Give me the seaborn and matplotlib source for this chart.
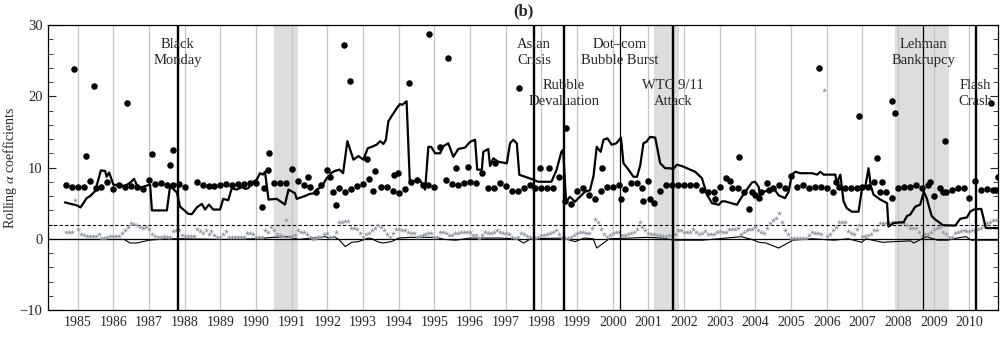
import numpy as np
import pandas as pd
import matplotlib
matplotlib.use("Agg")
import matplotlib.pyplot as plt
import seaborn as sns

# ---- data ----
# thick line: (decimal year, value) knots
thick_year = [1984.64, 1984.8, 1984.97, 1985.08, 1985.25, 1985.35, 1985.49, 1985.65, 1985.77, 1985.81,
              1985.88, 1986.0, 1986.33, 1986.5, 1986.58, 1986.7, 1987.03, 1987.08, 1987.5, 1987.59,
              1987.78, 1987.87, 1988.1, 1988.2, 1988.34, 1988.48, 1988.57, 1988.68, 1988.8, 1988.99,
              1989.08, 1989.22, 1989.32, 1989.46, 1989.6, 1989.7, 1989.78, 1989.92, 1990.02, 1990.11,
              1990.19, 1990.25, 1990.35, 1990.58, 1990.81, 1990.91, 1991.09, 1991.14, 1991.37, 1991.51,
              1991.65, 1991.7, 1991.84, 1991.98, 1992.08, 1992.1, 1992.2, 1992.34, 1992.44, 1992.56,
              1992.73, 1992.87, 1993.01, 1993.13, 1993.24, 1993.38, 1993.48, 1993.57, 1993.64, 1993.71,
              1993.85, 1993.94, 1994.03, 1994.1, 1994.22, 1994.31, 1994.46, 1994.6, 1994.74, 1994.83,
              1994.91, 1995.02, 1995.16, 1995.25, 1995.39, 1995.53, 1995.67, 1995.86, 1996.0, 1996.14,
              1996.2, 1996.33, 1996.37, 1996.51, 1996.56, 1996.65, 1996.79, 1997.03, 1997.12, 1997.21,
              1997.31, 1997.38, 1997.54, 1997.77, 1997.91, 1998.1, 1998.28, 1998.42, 1998.56, 1998.61,
              1998.69, 1998.8, 1998.94, 1999.08, 1999.22, 1999.36, 1999.46, 1999.55, 1999.66, 1999.74,
              1999.85, 1999.97, 2000.1, 2000.23, 2000.3, 2000.44, 2000.58, 2000.68, 2000.77, 2000.86,
              2000.94, 2001.05, 2001.19, 2001.33, 2001.47, 2001.61, 2001.69, 2001.8, 2001.94, 2002.31,
              2002.5, 2002.64, 2002.78, 2002.97, 2003.06, 2003.15, 2003.48, 2003.62, 2003.9, 2003.99,
              2004.09, 2004.13, 2004.23, 2004.37, 2004.51, 2004.65, 2004.83, 2004.93, 2005.02, 2005.12,
              2005.26, 2005.59, 2005.73, 2005.82, 2005.91, 2006.24, 2006.28, 2006.38, 2006.47, 2006.56,
              2006.7, 2006.89, 2006.98, 2007.08, 2007.17, 2007.23, 2007.31, 2007.5, 2007.69, 2007.73,
              2007.87, 2008.06, 2008.15, 2008.25, 2008.34, 2008.48, 2008.62, 2008.72, 2008.8, 2008.94,
              2009.04, 2009.18, 2009.25, 2009.6, 2009.74, 2009.93, 2010.02, 2010.12, 2010.33, 2010.46,
              2010.8]
thick_val = [5.1, 4.9, 4.7, 4.4, 5.7, 6.0, 6.7, 9.6, 9.5, 8.7,
             9.3, 7.6, 7.4, 8.0, 8.4, 7.1, 7.6, 3.98, 3.98, 7.4,
             6.5, 4.5, 3.5, 3.45, 4.4, 4.9, 4.1, 4.8, 4.1, 4.1,
             5.6, 5.4, 7.1, 6.9, 7.25, 7.0, 7.1, 8.0, 8.3, 9.2,
             9.0, 9.4, 5.5, 5.6, 4.8, 6.9, 6.4, 5.6, 6.0, 6.3,
             6.4, 6.9, 7.3, 8.5, 9.0, 9.2, 9.5, 9.7, 9.2, 13.7,
             11.1, 11.6, 11.1, 12.7, 12.9, 13.2, 13.7, 13.3, 13.9, 16.5,
             17.6, 18.3, 18.9, 18.8, 19.3, 8.05, 8.1, 8.2, 6.9, 12.9,
             12.9, 12.0, 12.0, 13.0, 13.4, 11.5, 12.6, 12.8, 13.6, 13.9,
             9.7, 9.7, 12.2, 12.6, 10.2, 11.3, 10.8, 10.6, 13.4, 13.9,
             13.4, 8.98, 8.7, 8.3, 8.0, 8.0, 8.0, 9.6, 12.2, 12.5,
             5.2, 5.9, 5.2, 5.9, 6.6, 6.8, 8.8, 12.9, 12.2, 13.9,
             14.1, 13.2, 13.4, 14.2, 10.6, 9.7, 8.7, 8.7, 10.3, 13.4,
             13.6, 14.3, 14.2, 10.6, 9.9, 9.9, 9.75, 10.4, 10.2, 9.4,
             8.5, 6.2, 5.0, 4.77, 5.25, 5.25, 4.77, 5.9, 7.9, 8.0,
             7.3, 6.1, 6.6, 6.8, 7.1, 6.1, 5.7, 6.6, 9.0, 9.4,
             9.2, 9.2, 9.0, 9.4, 9.0, 9.0, 7.8, 9.0, 5.25, 4.3,
             3.8, 3.8, 6.8, 7.3, 9.9, 7.5, 6.2, 5.5, 5.0, 1.7,
             2.2, 2.3, 2.3, 3.2, 3.4, 4.5, 4.8, 6.6, 5.7, 3.2,
             2.7, 2.2, 1.9, 1.85, 2.8, 3.0, 3.8, 4.1, 4.2, 1.5,
             1.5]

# thin line near zero: (decimal year, value) knots
thin_year = [1984.67, 1986.3, 1986.47, 1986.65, 1987.0, 1987.5, 1988.0, 1989.0, 1990.0, 1990.48,
             1990.85, 1991.2, 1991.94, 1992.05, 1992.2, 1992.34, 1992.5, 1992.68, 1992.87, 1993.15,
             1993.25, 1993.4, 1993.55, 1993.8, 1994.0, 1994.3, 1995.0, 1995.3, 1995.6, 1996.0,
             1996.8, 1997.3, 1997.5, 1997.7, 1998.6, 1998.94, 1999.2, 1999.45, 1999.55, 1999.74,
             1999.9, 2000.5, 2000.95, 2001.4, 2001.7, 2002.5, 2002.97, 2003.6, 2003.9, 2004.1,
             2004.3, 2004.65, 2004.83, 2005.05, 2005.6, 2006.2, 2006.6, 2006.98, 2007.1, 2007.56,
             2007.9, 2008.35, 2008.44, 2008.71, 2008.8, 2009.1, 2009.4, 2009.65, 2009.9, 2010.05,
             2010.8]
thin_val = [-0.1, -0.1, -0.6, -0.6, -0.2, 0.0, 0.0, -0.1, 0.0, 0.2,
            0.3, -0.1, 0.3, 0.1, 0.3, -0.2, -1.1, -0.5, -0.4, 0.1,
            0.0, -0.4, -0.6, -0.4, 0.1, 0.2, 0.2, -0.1, -0.2, 0.1,
            0.1, 0.0, -0.6, 0.0, 0.1, -0.4, 0.1, 0.0, -1.3, -0.6,
            0.0, 0.1, 0.2, 0.1, -0.2, -0.2, 0.0, 0.3, -0.1, -0.5,
            -0.6, -1.3, -0.8, -0.2, 0.0, -0.2, 0.0, -0.5, 0.0, -0.5,
            -0.4, -0.3, -0.6, 0.1, 0.3, -0.2, -0.2, 0.1, 0.3, -0.2,
            -0.2]

# black dots, every two months from Sep 1984
dot_vals = [7.6, 7.25,                              # 1984 (Sep, Nov)
            7.25, 7.25, 8.1, 7.1, 7.3, 8.0,         # 1985
            7.0, 7.5, 7.25, 7.4, 7.25, 7.0,         # 1986
            8.2, 7.7, 7.8, 7.6, 7.5, 7.7,           # 1987
            7.25, np.nan, 7.9, 7.6, 7.35, 7.4,      # 1988
            7.6, 7.7, 7.5, 7.7, 7.7, 7.8,           # 1989
            7.8, 4.4, 9.6, 7.8, 7.8, 7.8,           # 1990
            9.8, 8.1, 7.6, 7.25, 6.5, 7.6,          # 1991
            9.7, 6.6, 7.1, 6.5, 7.0, 7.45,          # 1992
            7.7, 8.4, 9.5, 7.2, 7.2, 6.7,           # 1993
            6.4, 7.0, 7.9, 8.2, 7.6, 7.6,           # 1994
            7.3, 12.9, 8.3, 7.7, 7.6, 7.8,          # 1995
            7.9, 7.8, 9.2, 7.1, 7.1, 7.8,           # 1996
            7.4, 6.7, 6.7, 7.1, 7.5, 7.1,           # 1997
            7.1, 7.1, 7.1, 8.7, 5.3, 4.9,           # 1998
            6.7, 7.1, 6.2, 5.6, 6.7, 7.3,           # 1999
            7.3, 7.6, 7.0, 7.8, 7.8, 7.1,           # 2000
            8.1, 5.0, 6.7, 7.5, 7.5, 7.5,           # 2001
            7.5, 7.5, 7.5, 6.8, 6.5, 6.5,           # 2002
            7.2, 8.5, 7.1, 7.1, 6.5, 4.2,           # 2003
            6.1, 6.6, 7.8, 7.1, 7.5, 7.1,           # 2004
            8.8, 7.3, 7.5, 7.1, 7.2, 7.2,           # 2005
            7.1, 6.6, 7.2, 7.1, 7.1, 7.1,           # 2006
            7.3, 7.3, 7.9, 6.6, 6.6, 5.7,           # 2007
            7.1, 7.3, 7.3, 7.5, 7.1, 7.5,           # 2008
            6.0, 7.1, 6.5, 6.8, 7.1, 7.1,           # 2009
            5.7, 8.1, 6.8, 7.0, 6.9]                # 2010 (Jan-Sep)

# extra black dots off the regular grid
dot_extra_year = [1984.9, 1985.22, 1985.47, 1986.37, 1987.07, 1987.59, 1987.66, 1990.22, 1990.37, 1991.47,
                  1992.08, 1992.23, 1992.47, 1992.62, 1993.12, 1993.29, 1993.88, 1993.97, 1994.3, 1994.86,
                  1995.37, 1995.61, 1995.95, 1996.7, 1997.36, 1997.95, 1998.2, 1998.69, 1999.69, 2000.23,
                  2000.86, 2001.05, 2002.88, 2003.29, 2003.55, 2003.9, 2004.11, 2004.37, 2005.79, 2006.27,
                  2006.89, 2007.4, 2007.54, 2007.82, 2007.92, 2008.9, 2009.26, 2009.32, 2010.61, 2010.74,
                  2010.8]
dot_extra_val = [23.8, 11.65, 21.4, 19.0, 11.9, 10.3, 12.4, 7.1, 12.1, 8.7,
                 8.7, 4.75, 27.2, 22.2, 11.2, 6.7, 9.0, 9.2, 21.8, 28.7,
                 25.3, 10.0, 10.1, 10.6, 21.2, 10.0, 10.0, 15.5, 10.0, 5.6,
                 5.3, 5.6, 5.6, 8.1, 11.5, 6.6, 5.7, 6.8, 23.95, 8.0,
                 17.2, 11.3, 7.9, 19.3, 17.7, 7.9, 6.5, 13.7, 19.0, 6.8,
                 8.7]

# grey stars, monthly from Sep 1984
star_vals = [0.9, 0.9, 1.0, 5.4,                                          # 1984 (Sep-Dec)
             1.3, 0.7, 0.5, 0.35, 0.35, 0.4, 0.45, 0.6, 0.1, 0.1, 0.2, 0.35,   # 1985
             0.35, 0.45, 0.45, 0.8, 1.2, 1.7, 2.2, 2.05, 1.95, 1.7, 1.5, 1.6,  # 1986
             1.3, 0.7, 0.35, 0.3, 0.25, 0.45, 0.3, 0.25, 1.05, 1.2, 1.2, 0.5,  # 1987
             0.35, 0.45, 0.45, 0.4, 1.4, 1.05, 0.8, 1.2, 0.6, 1.05, 0.5, 0.25, # 1988
             0.25, 0.6, 1.05, 0.25, 0.25, 0.25, 0.25, 0.25, 0.25, 0.8, 0.8, 0.6,  # 1989
             0.3, 0.25, 0.25, 1.2, 0.9, 1.7, 1.2, 0.7, 0.5, 0.4, 2.6, 0.35,    # 1990
             0.35, 0.5, 1.2, 0.9, 0.9, 0.6, 0.3, 0.0, 0.1, 0.25, 0.3, 0.6,     # 1991
             0.8, 0.3, 0.3, 1.0, 2.4, 2.4, 2.5, 2.5, 1.5, 1.5, 1.3, 0.8,       # 1992
             0.3, 0.6, 0.8, 1.2, 1.5, 1.95, 1.6, 1.2, 0.7, 0.3, 0.8, 1.3,      # 1993
             1.3, 1.2, 1.2, 1.0, 0.8, 0.8, 0.3, 0.4, 0.5, 0.6, 0.8, 0.8,       # 1994
             0.3, 0.3, 1.0, 0.9, 0.8, 0.5, 0.5, 0.8, 0.8, 1.0, 1.0, 1.0,       # 1995
             0.9, 0.5, 0.5, 0.1, 0.5, 1.0, 0.8, 0.8, 1.0, 1.2, 1.0, 0.8,       # 1996
             0.8, 0.6, 0.3, 0.1, 0.3, 0.8, 0.6, 0.4, 0.3, 0.1, 0.1, 0.3,       # 1997
             0.5, 0.5, 0.6, 0.8, 1.0, 1.2, 0.6, 0.1, 0.1, 0.1, 0.3, 0.5,       # 1998
             0.8, 0.9, 0.9, 0.8, 0.8, 1.5, 2.75, 2.3, 1.35, 0.6, 0.3, 0.5,     # 1999
             0.8, 1.0, 0.9, 0.5, 0.5, 0.6, 0.8, 1.0, 1.35, 2.4, 1.7, 1.2,      # 2000
             0.8, 0.7, 0.7, 0.5, 0.5, 0.4, 0.4, 0.5, 0.4, 0.6, 1.26, 1.2,      # 2001
             1.0, 0.9, 0.9, 1.4, 1.0, 0.6, 0.8, 1.05, 0.6, 0.6, 0.7, 0.9,      # 2002
             1.05, 1.0, 1.0, 1.4, 1.4, 1.4, 1.5, 0.7, 0.9, 1.2, 1.4, 1.4,      # 2003
             1.7, 1.26, 1.0, 0.8, 1.5, 2.2, 2.6, 2.9, 3.6, 2.3, 1.26, 0.6,     # 2004
             0.1, 0.1, 0.1, 0.1, 0.1, 0.1, 0.5, 0.9, 0.8, 0.8, 0.7, 20.9,      # 2005
             0.4, 0.6, 1.2, 1.7, 2.3, 2.3, 2.3, 1.05, 0.8, 0.6, 1.3, 2.0,      # 2006
             0.35, 0.35, 0.5, 0.6, 1.26, 1.26, 2.2, 2.2, 2.2, 2.2, 2.3, 2.3,   # 2007
             2.4, 2.4, 2.2, 2.0, 1.55, 1.55, 1.55, 1.0, 0.45, 0.6, 0.6, 0.9,   # 2008
             1.3, 1.55, 1.7, 1.0, 0.6, 0.25, 0.25, 0.8, 0.9, 1.05, 1.26, 1.1,  # 2009
             1.05, 1.2, 1.26, 1.3, 1.5, 2.0, 2.2, 2.4, 2.6, 2.7]              # 2010 (Jan-Oct)

event_names = ["Black\nMonday", "Asian\nCrisis", "Rubble\nDevaluation", "Dot\u2013com\nBubble Burst",
               "WTC 9/11\nAttack", "Lehman\nBankrupcy", "Flash\nCrash"]
event_year = [1987.8, 1997.8, 1998.63, 2000.19, 2001.69, 2008.71, 2010.17]

recession_start = [1990.5, 2001.17, 2007.92]
recession_end = [1991.17, 2001.85, 2009.42]


def decimal_years(start, n, step):
    d = pd.date_range(start, periods=n, freq=step)
    return d.year + (d.month - 1) / 12.0


dots = pd.DataFrame({"t": decimal_years("1984-09-01", len(dot_vals), "2MS"), "v": dot_vals})
extra = pd.DataFrame({"t": dot_extra_year, "v": dot_extra_val})
stars = pd.DataFrame({"t": decimal_years("1984-09-01", len(star_vals), "MS"), "v": star_vals})

sns.set_style("ticks")
plt.rcParams["font.family"] = ["Liberation Serif", "DejaVu Serif"]
plt.rcParams["mathtext.fontset"] = "stix"

fig = plt.figure(figsize=(10, 3.44), dpi=100)
ax = fig.add_axes([0.048, 0.0988, 0.95, 0.8285])

for a, b in zip(recession_start, recession_end):
    ax.axvspan(a, b, color="#dddddd", lw=0, zorder=0)
for yr in range(1985, 2011):
    ax.axvline(yr, color="#c4c4c4", lw=0.9, zorder=1)

ax.axhline(0, color="black", lw=0.9, zorder=2)
ax.axhline(2, color="black", lw=0.8, ls=(0, (3, 2)), zorder=2)

sns.lineplot(x=thin_year, y=thin_val, ax=ax, color="black", lw=0.8,
             estimator=None, sort=False, zorder=3)
sns.scatterplot(data=stars, x="t", y="v", ax=ax, marker="*", s=12, color="#8c8c8c",
                edgecolor="#b4c2d4", linewidth=0.2, zorder=4)
sns.lineplot(x=thick_year, y=thick_val, ax=ax, color="black", lw=1.6,
             estimator=None, sort=False, zorder=5)
sns.scatterplot(data=dots, x="t", y="v", ax=ax, color="black", s=22, linewidth=0, zorder=6)
sns.scatterplot(data=extra, x="t", y="v", ax=ax, color="black", s=22, linewidth=0, zorder=6)

thick_event = [True, True, True, False, True, False, True]
label_y = [26.2, 26.2, 20.4, 26.2, 20.4, 26.2, 20.4]
for name, yr, thick, ly in zip(event_names, event_year, thick_event, label_y):
    ax.axvline(yr, color="black", lw=1.7 if thick else 0.9, zorder=7)
    ax.text(yr, ly, name, ha="center", va="center", fontsize=10.5, linespacing=1.3, zorder=8)

ax.set_xlim(1984.167, 2010.8)
ax.set_ylim(-10, 30)
ax.set_xticks(range(1985, 2011))
ax.set_yticks([-10, 0, 10, 20, 30])
ax.set_yticks(np.arange(-10, 31, 2), minor=True)
ax.set_yticklabels(["\u221210", "0", "10", "20", "30"])
ax.tick_params(axis="x", length=0, pad=4, labelsize=10)
ax.tick_params(axis="y", which="major", direction="in", length=6, width=0.8,
               right=True, pad=4, labelsize=10.5)
ax.tick_params(axis="y", which="minor", direction="in", length=3.5, width=0.6, right=True)
for s in ax.spines.values():
    s.set_linewidth(0.9)
    s.set_color("black")

ax.set_xlabel("")
ax.set_ylabel("Rolling $\\alpha$ coefficients", fontsize=10)
ax.yaxis.set_label_coords(-0.031, 0.5)
ax.set_title("(b)", fontweight="bold", fontsize=12, pad=7)

fig.savefig("out.png", dpi=100)
